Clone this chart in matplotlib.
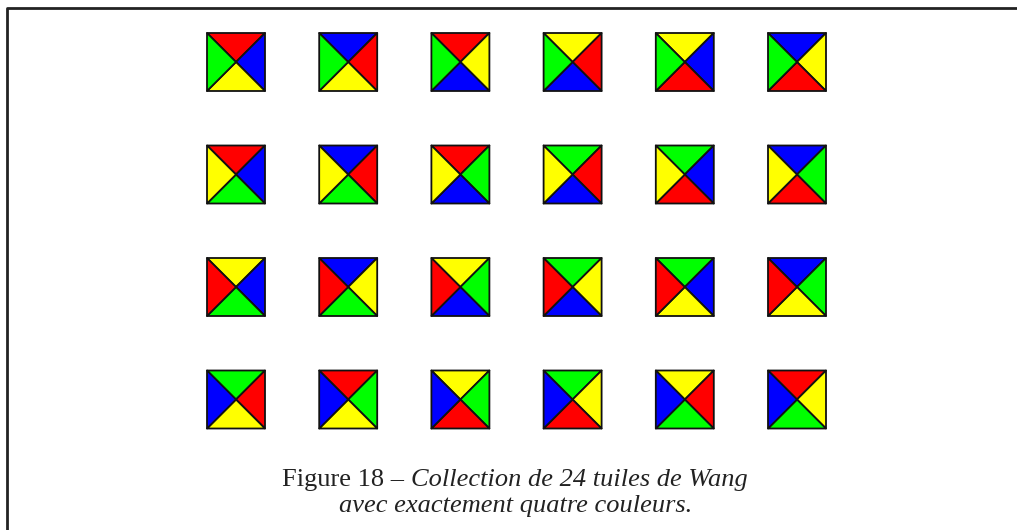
import matplotlib.pyplot as plt
from matplotlib.patches import Polygon

# colour codes of each tile: (top, right, bottom, left)
R, B, Y, G = 'r', 'b', 'y', 'g'
row1 = [(R, B, Y, G), (B, R, Y, G), (R, Y, B, G), (Y, R, B, G), (Y, B, R, G), (B, Y, R, G)]
row2 = [(R, B, G, Y), (B, R, G, Y), (R, G, B, Y), (G, R, B, Y), (G, B, R, Y), (B, G, R, Y)]
row3 = [(Y, B, G, R), (B, Y, G, R), (Y, G, B, R), (G, Y, B, R), (G, B, Y, R), (B, G, Y, R)]
row4 = [(G, R, Y, B), (R, G, Y, B), (Y, G, R, B), (G, Y, R, B), (Y, R, G, B), (R, Y, G, B)]
rows = [row1, row2, row3, row4]

colours = {'r': '#ff0000', 'b': '#0000ff', 'y': '#ffff00', 'g': '#00ff00'}

caption1 = 'Figure 18 \u2013 '
caption1_it = 'Collection de 24 tuiles de Wang'
caption2 = 'avec exactement quatre couleurs.'

W, H = 1017, 530
fig = plt.figure(figsize=(W / 100, H / 100), dpi=100)
ax = fig.add_axes([0, 0, 1, 1])
ax.set_xlim(0, W)
ax.set_ylim(H, 0)
ax.axis('off')

# frame (only top and left edges visible)
ax.plot([7, 7, W + 5], [H + 5, 8, 8], color='#222222', lw=2, solid_capstyle='butt')

x0, y0 = 207, 33
dx, dy = 112.2, 112.5
s = 58
for r, row in enumerate(rows):
    for c, tile in enumerate(row):
        x = x0 + c * dx
        y = y0 + r * dy
        cx, cy = x + s / 2, y + s / 2
        tl, tr, br, bl = (x, y), (x + s, y), (x + s, y + s), (x, y + s)
        tris = [(tl, tr), (tr, br), (br, bl), (bl, tl)]
        for (p1, p2), col in zip(tris, tile):
            ax.add_patch(Polygon([p1, p2, (cx, cy)], closed=True, facecolor=colours[col],
                                 edgecolor='#111111', lw=1.3, joinstyle='round'))

serif = 'Liberation Serif'
fs = 19
tc = '#222222'
xc = 515
# first line: upright prefix + italic part, centred as a whole
r = fig.canvas.get_renderer()
ta = ax.text(0, 486, caption1, fontsize=fs, family=serif, ha='left', va='baseline', color=tc)
tb = ax.text(0, 486, caption1_it, fontsize=fs, family=serif, style='italic',
             ha='left', va='baseline', color=tc)
wa = ta.get_window_extent(r).width
wb = tb.get_window_extent(r).width
left = xc - (wa + wb) / 2
ta.set_x(left)
tb.set_x(left + wa)
ax.text(xc + 1, 512, caption2, fontsize=fs, family=serif, style='italic',
        ha='center', va='baseline', color=tc)

fig.savefig('out.png', dpi=100)
